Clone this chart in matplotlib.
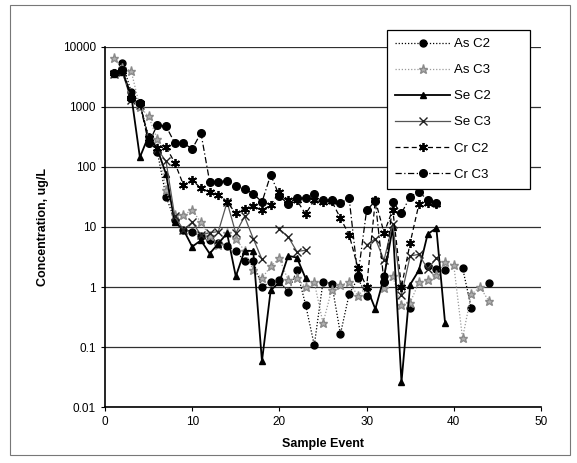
import numpy as np
import matplotlib
matplotlib.use("Agg")
import matplotlib.pyplot as plt
from matplotlib.patches import Rectangle

nan = np.nan
events = list(range(1, 45))

as_c2 = [nan, 5400, 1800, 1150, 320, 180, 32, 13, 9, 8.4,
         7, 6, 5.5, 4.9, 4.0, 2.7, 2.7, 1.0, 1.23, 1.3,
         0.81, 1.9, 0.51, 0.107, 1.22, 1.14, 0.165, 0.76, 1.4, 0.72,
         nan, 1.55, nan, nan, 0.45, nan, 2.2, 2.0, 1.9, nan,
         2.1, 0.45, nan, 1.17]
as_c3 = [6500, 4500, 4000, 1000, 700, 290, 41, 16, 16, 19,
         12, 7, 5, 8, 6.4, 4.0, 1.9, 1.4, 2.2, 3.0,
         1.3, 1.4, 1.0, 1.2, 0.25, 0.9, 1.07, 1.2, 0.71, 1.0,
         nan, 0.96, 1.5, 0.5, 0.55, 1.2, 1.3, 1.6, 2.6, 2.3,
         0.14, 0.75, 1.0, 0.59]
se_c2 = [3500, 3800, 1600, 145, 330, 200, 76, 12, 9, 4.7,
         6, 3.6, 5.3, 7.9, 1.5, 4.0, 4.0, 0.058, 0.88, 1.2,
         3.3, 3.1, 1.4, nan, nan, nan, nan, nan, nan, 1.0,
         0.43, 1.45, 10, 0.026, 1.1, 1.9, 7.6, 9.6, 0.25, nan,
         nan, nan, nan, nan]
se_c3 = [3500, 3800, 1300, 1100, 300, 200, 124, 15, 9, 12,
         7.4, 8, 8.4, 26, 7.9, 15, 6.4, 2.9, nan, 9.2,
         6.9, 3.9, 4.1, nan, nan, nan, nan, nan, nan, 5,
         6.4, 2.8, 11.4, 0.74, 3.3, 3.5, 2.0, 3.0, nan, nan,
         nan, nan, nan, nan]
cr_c2 = [3700, 4000, 1400, 1150, 300, 210, 215, 118, 50, 61,
         44, 38, 34, 26, 17, 20, 22, 19, 23, 39,
         28, 28, 16.4, 28, 26, 27, 14, 7.4, 2.1, 1.0,
         28, 8, 19.5, 1.0, 5.5, 24, 25, 24, nan, nan,
         nan, nan, nan, nan]
cr_c3 = [3700, 4200, 1400, 1150, 250, 500, 480, 250, 250, 200,
         370, 57, 57, 59, 48, 43, 36, 26, 74, 33,
         24, 31, 30, 35, 28, 28, 25, 30, 1.5, 19,
         27, 1.2, 26, 17, 32, 39, 28, 25, nan, nan,
         nan, nan, nan, nan]

y_ticks = [0.01, 0.1, 1, 10, 100, 1000, 10000]
y_labels = ["0.01", "0.1", "1", "10", "100", "1000", "10000"]
x_ticks = [0, 10, 20, 30, 40, 50]

plt.rcParams['font.family'] = ['Liberation Sans', 'DejaVu Sans']

fig = plt.figure(figsize=(5.77, 4.63), dpi=100)
ax = fig.add_axes([105/577, 1 - 407/463, 436/577, 360/463])

ms = 5
ax.plot(events, as_c2, linestyle=(0, (1, 1.5)), color='black', lw=0.9,
        marker='o', ms=ms, mfc='black', mec='black', label='As C2')
ax.plot(events, as_c3, linestyle=(0, (1, 1.5)), color='#9a9a9a', lw=0.9,
        marker='*', ms=6.5, mfc='#b0b0b0', mec='#8a8a8a', label='As C3')
ax.plot(events, se_c2, linestyle='-', color='black', lw=1.3,
        marker='^', ms=ms, mfc='black', mec='black', label='Se C2')
ax.plot(events, se_c3, linestyle='-', color='#555555', lw=0.9,
        marker='x', ms=ms + 0.5, mec='#222222', mew=1.0, label='Se C3')
ax.plot(events, cr_c2, linestyle=(0, (4, 2.5)), color='black', lw=0.9,
        marker=(6, 2, 0), ms=6.5, mec='black', mew=1.3, label='Cr C2')
ax.plot(events, cr_c3, linestyle=(0, (5, 2, 1, 2)), color='black', lw=0.9,
        marker='o', ms=ms + 0.5, mfc='black', mec='black', label='Cr C3')

ax.set_yscale('log')
ax.set_ylim(0.01, 10000)
ax.set_xlim(0, 50)
ax.set_yticks(y_ticks)
ax.set_yticklabels(y_labels)
ax.yaxis.set_minor_locator(matplotlib.ticker.NullLocator())
ax.set_xticks(x_ticks)
ax.tick_params(axis='both', direction='out', labelsize=8.5, length=3, width=0.8)
ax.grid(axis='y', which='major', color='#303030', lw=0.9)
ax.set_axisbelow(True)
for s in ['top', 'right']:
    ax.spines[s].set_visible(False)
ax.spines['left'].set_linewidth(1.2)
ax.spines['bottom'].set_linewidth(1.2)

ax.set_xlabel('Sample Event', fontsize=9, fontweight='bold', labelpad=7)
ax.set_ylabel('Concentration, ug/L', fontsize=9, fontweight='bold', labelpad=10)

leg = ax.legend(loc='upper left', mode='expand',
                bbox_to_anchor=(387/577, 1 - 187/463, 143/577, 157/463),
                bbox_transform=fig.transFigure, fontsize=9.5, frameon=True,
                fancybox=False, edgecolor='black', framealpha=1,
                handlelength=4.2, labelspacing=1.05, borderpad=0.6,
                handletextpad=0.3, borderaxespad=0)
leg.get_frame().set_linewidth(0.9)
leg.set_zorder(10)

fig.patches.append(Rectangle((10/577, 8/463), 560/577, 450/463,
                             transform=fig.transFigure, fill=False,
                             edgecolor='#777777', lw=0.8))

fig.savefig('out.png', dpi=100)
